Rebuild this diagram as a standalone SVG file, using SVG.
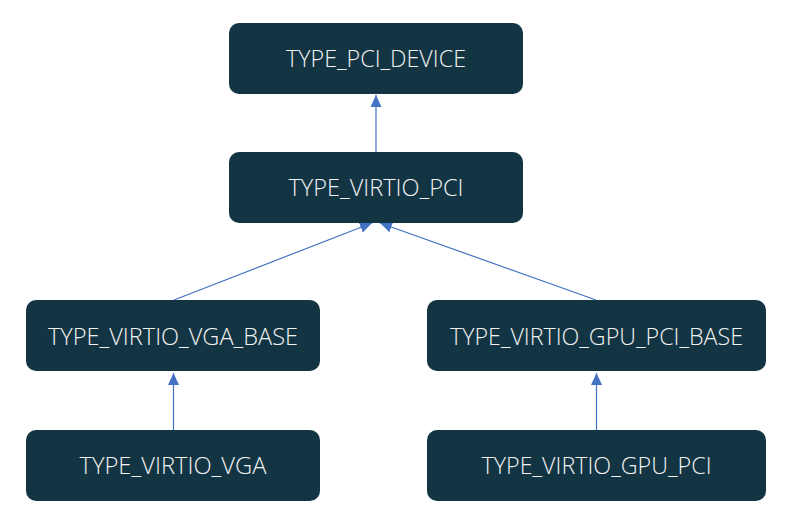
<svg xmlns="http://www.w3.org/2000/svg" width="785" height="529" viewBox="0 0 785 529">
<style>
.box{fill:#133543;}
.lbl{fill:#f2f2f2;font-family:"Open Sans","Noto Sans",sans-serif;font-weight:300;font-size:23px;text-anchor:middle;}
.edge{stroke:#4472c4;stroke-width:1.2;fill:none;marker-end:url(#arr);}
</style>
<defs>
<marker id="arr" viewBox="0 0 12 11" refX="12" refY="5.5" markerWidth="12" markerHeight="11" markerUnits="userSpaceOnUse" orient="auto">
<path d="M0,0 L12,5.5 L0,11 Z" fill="#4472c4"/>
</marker>
</defs>
<rect width="785" height="529" fill="#ffffff"/>
<g id="connectors">
<line class="edge" x1="376" y1="152" x2="376" y2="95"/>
<line class="edge" x1="174" y1="300" x2="372" y2="223"/>
<line class="edge" x1="596" y1="300" x2="380" y2="223"/>
<line class="edge" x1="173.5" y1="430" x2="173.5" y2="373"/>
<line class="edge" x1="596.5" y1="430" x2="596.5" y2="373"/>
</g>
<g id="n_pci_device">
<rect class="box" x="229" y="23" width="294" height="71" rx="10"/>
<text class="lbl" x="376" y="66.5" textLength="180" lengthAdjust="spacingAndGlyphs">TYPE_PCI_DEVICE</text>
</g>
<g id="n_virtio_pci">
<rect class="box" x="229" y="152" width="294" height="71" rx="10"/>
<text class="lbl" x="376" y="196" textLength="175" lengthAdjust="spacingAndGlyphs">TYPE_VIRTIO_PCI</text>
</g>
<g id="n_virtio_vga_base">
<rect class="box" x="26" y="300" width="294" height="71" rx="10"/>
<text class="lbl" x="173" y="345" textLength="250" lengthAdjust="spacingAndGlyphs">TYPE_VIRTIO_VGA_BASE</text>
</g>
<g id="n_virtio_gpu_pci_base">
<rect class="box" x="427" y="300" width="339" height="71" rx="10"/>
<text class="lbl" x="596.5" y="345" textLength="293" lengthAdjust="spacingAndGlyphs">TYPE_VIRTIO_GPU_PCI_BASE</text>
</g>
<g id="n_virtio_vga">
<rect class="box" x="26" y="430" width="294" height="71" rx="10"/>
<text class="lbl" x="173" y="474" textLength="187" lengthAdjust="spacingAndGlyphs">TYPE_VIRTIO_VGA</text>
</g>
<g id="n_virtio_gpu_pci">
<rect class="box" x="427" y="430" width="339" height="71" rx="10"/>
<text class="lbl" x="596.5" y="474" textLength="230" lengthAdjust="spacingAndGlyphs">TYPE_VIRTIO_GPU_PCI</text>
</g>
</svg>
